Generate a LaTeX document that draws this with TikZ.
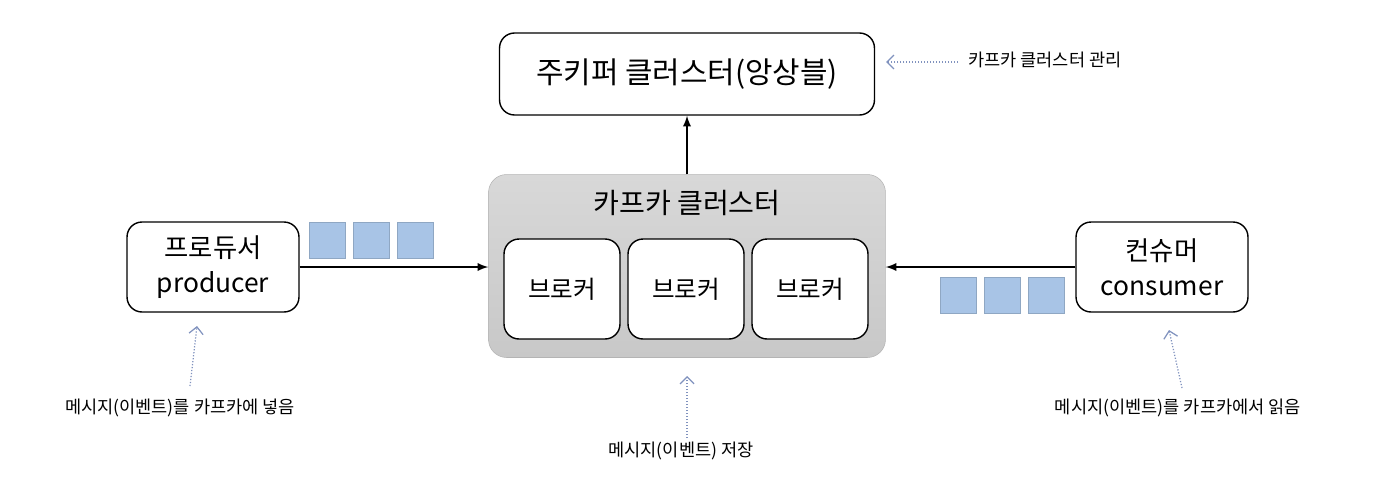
\documentclass[tikz,border=0pt]{standalone}
\usepackage{fontspec}
\setmainfont{Noto Sans CJK KR}
\usetikzlibrary{arrows,arrows.meta,positioning}
\definecolor{msgblue}{RGB}{168,196,230}
\definecolor{notegray}{RGB}{128,146,190}
\definecolor{clustertop}{RGB}{216,216,216}
\definecolor{clusterbottom}{RGB}{200,200,200}

\tikzset{
  box/.style={draw, line width=0.8pt, rounded corners=0.3cm, fill=white},
  msg/.style={fill=msgblue, draw=msgblue!85!black, line width=0.3pt, minimum size=0.72cm, inner sep=0pt},
  flow/.style={->, >=latex, line width=1.1pt},
  note/.style={-{Straight Barb[length=4pt,width=8pt]}, notegray, densely dotted, line width=0.7pt},
  notetext/.style={font=\fontsize{10}{12}\selectfont}
}

\begin{document}
\begin{tikzpicture}[x=0.02cm, y=-0.02cm]
  \useasboundingbox (0,0) rectangle (1388,484); % picture frame

  % zookeeper
  \node[box, minimum width=7.5cm, minimum height=1.64cm, font=\fontsize{17}{20}\selectfont]
    (zk) at (687,74) {주키퍼 클러스터(앙상블)};

  % kafka cluster with brokers
  \node[draw=clusterbottom!90!black, line width=0.3pt, rounded corners=0.36cm,
        top color=clustertop, bottom color=clusterbottom,
        minimum width=7.94cm, minimum height=3.66cm] (kc) at (687,266) {};
  \node[font=\fontsize{16}{19}\selectfont] (kctitle) at (687,203) {카프카 클러스터};
  \node[box, minimum width=2.32cm, minimum height=2.0cm, font=\fontsize{14}{17}\selectfont] (b1) at (562,289) {브로커};
  \node[box, minimum width=2.32cm, minimum height=2.0cm, font=\fontsize{14}{17}\selectfont] (b2) at (686,289) {브로커};
  \node[box, minimum width=2.32cm, minimum height=2.0cm, font=\fontsize{14}{17}\selectfont] (b3) at (810,289) {브로커};

  % producer and consumer
  \node[box, minimum width=3.44cm, minimum height=1.8cm, align=center,
        font=\fontsize{15}{20}\selectfont] (prod) at (213,267) {프로듀서\\producer};
  \node[box, minimum width=3.44cm, minimum height=1.8cm, align=center,
        font=\fontsize{15}{20}\selectfont] (cons) at (1162,267) {컨슈머\\consumer};

  % messages
  \node[msg] (pm1) at (327,240) {};
  \node[msg] (pm2) at (371,240) {};
  \node[msg] (pm3) at (415,240) {};
  \node[msg] (cm1) at (958,295) {};
  \node[msg] (cm2) at (1002,295) {};
  \node[msg] (cm3) at (1046,295) {};

  \draw[flow] (prod.east) -- (prod.east -| kc.west);
  \draw[flow] (cons.west) -- (cons.west -| kc.east);
  \draw[flow] (kc.north) -- (zk.south);

  % notes
  \node[notetext, anchor=west] (zknote) at (962,60) {카프카 클러스터 관리};
  \node[notetext] (pnote) at (180,408) {메시지(이벤트)를 카프카에 넣음};
  \node[notetext] (knote) at (681,451) {메시지(이벤트) 저장};
  \node[notetext] (cnote) at (1178,408) {메시지(이벤트)를 카프카에서 읽음};
  \coordinate (zknotetip) at (886,62);
  \coordinate (pnotetip) at (197,326);
  \coordinate (knotetip) at (687,376);
  \coordinate (cnotetip) at (1169,330);

  \draw[note] (958,62) -- (zknotetip);
  \draw[note] (190,386) -- (pnotetip);
  \draw[note] (687,438) -- (knotetip);
  \draw[note] (1182,388) -- (cnotetip);
\end{tikzpicture}
\end{document}
